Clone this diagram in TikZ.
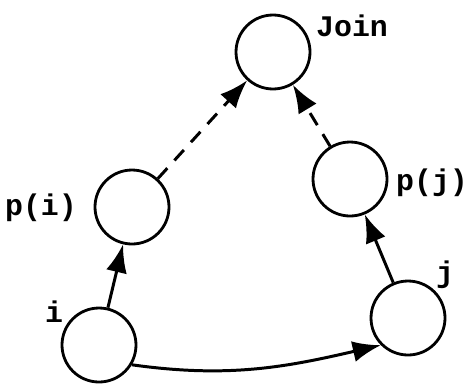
\documentclass[tikz,border=0pt]{standalone}
\usepackage{fontspec}
\setmonofont{Liberation Mono}
\usetikzlibrary{arrows.meta}

\begin{document}
\begin{tikzpicture}[
    every node/.style={font=\ttfamily\bfseries\fontsize{17}{20}\selectfont},
    v/.style={circle,draw=black,line width=1.6pt,minimum size=1.48cm,inner sep=0},
    e/.style={line width=1.7pt,-{Latex[length=16pt,width=12pt]}},
    dsh/.style={e,dash pattern=on 8pt off 6pt}
]

\useasboundingbox (0, 0) rectangle (9.42, -7.7);

\node [v] (join) at (5.46, -1.04) {};
\node [v] (pi)   at (2.64, -4.14) {};
\node [v] (i)    at (1.98, -6.90) {};
\node [v] (pj)   at (7.00, -3.58) {};
\node [v] (j)    at (8.16, -6.36) {};

\node (ljoin) at (7.04, -0.52) {Join};
\node (lpi)   at (0.82, -4.16) {p(i)};
\node (li)    at (1.08, -6.24) {i};
\node (lpj)   at (8.64, -3.66) {p(j)};
\node (lj)    at (8.90, -5.50) {j};

\draw [e]   (i)  -- (pi);
\draw [e]   (j)  -- (pj);
\draw [dsh] (pi) -- (join);
\draw [dsh] (pj) -- (join);
\draw [e]   (i.-31) to [out=-8, in=193] (j.225);

\end{tikzpicture}
\end{document}
